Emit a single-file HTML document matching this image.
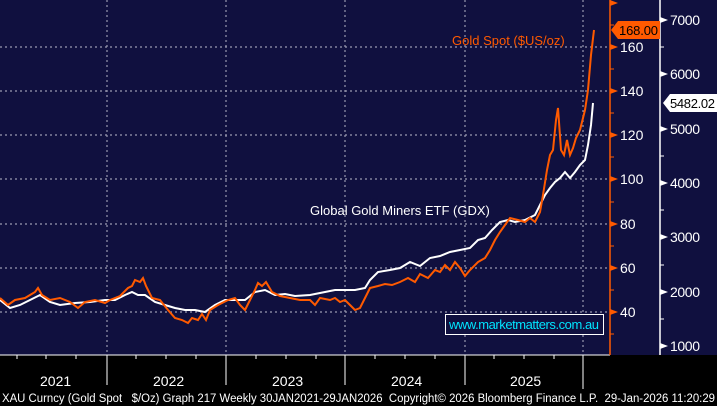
<!DOCTYPE html><html><head><style>body{margin:0;background:#000;}svg{display:block;font-family:"Liberation Sans",sans-serif}</style></head><body>
<svg width="717" height="406" viewBox="0 0 717 406">
<rect x="0" y="0" width="717" height="355" fill="#10103f"/>
<rect x="0" y="355" width="717" height="51" fill="#000"/>
<g stroke="#9a9ab0" stroke-width="1.2" stroke-dasharray="2,3">
<line x1="107" y1="0" x2="107" y2="355"/><line x1="226" y1="0" x2="226" y2="355"/><line x1="345" y1="0" x2="345" y2="355"/><line x1="465" y1="0" x2="465" y2="355"/><line x1="583" y1="0" x2="583" y2="355"/>
<line x1="0" y1="47" x2="610" y2="47"/><line x1="0" y1="91" x2="610" y2="91"/><line x1="0" y1="135" x2="610" y2="135"/><line x1="0" y1="179" x2="610" y2="179"/><line x1="0" y1="224" x2="610" y2="224"/><line x1="0" y1="268" x2="610" y2="268"/><line x1="0" y1="312" x2="610" y2="312"/>
</g>
<line x1="0" y1="355" x2="610" y2="355" stroke="#fff" stroke-width="1"/>
<g stroke="#fff" stroke-width="1"><line x1="107" y1="355" x2="107" y2="385"/><line x1="226" y1="355" x2="226" y2="385"/><line x1="345" y1="355" x2="345" y2="385"/><line x1="465" y1="355" x2="465" y2="385"/><line x1="583" y1="355" x2="583" y2="389"/>
<line x1="17" y1="355" x2="17" y2="359"/><line x1="46" y1="355" x2="46" y2="359"/><line x1="76" y1="355" x2="76" y2="359"/><line x1="136" y1="355" x2="136" y2="359"/><line x1="166" y1="355" x2="166" y2="359"/><line x1="196" y1="355" x2="196" y2="359"/><line x1="256" y1="355" x2="256" y2="359"/><line x1="286" y1="355" x2="286" y2="359"/><line x1="316" y1="355" x2="316" y2="359"/><line x1="375" y1="355" x2="375" y2="359"/><line x1="405" y1="355" x2="405" y2="359"/><line x1="435" y1="355" x2="435" y2="359"/><line x1="494" y1="355" x2="494" y2="359"/><line x1="524" y1="355" x2="524" y2="359"/><line x1="554" y1="355" x2="554" y2="359"/></g>
<line x1="610" y1="0" x2="610" y2="355" stroke="#ff5a00" stroke-width="1.5"/>
<g fill="#ff5a00"><polygon points="610,44 618,47 610,50"/><polygon points="610,88 618,91 610,94"/><polygon points="610,132 618,135 610,138"/><polygon points="610,176 618,179 610,182"/><polygon points="610,221 618,224 610,227"/><polygon points="610,265 618,268 610,271"/><polygon points="610,309 618,312 610,315"/><polygon points="610,0 618,3 610,6"/></g>
<g stroke="#ff5a00"><line x1="610" y1="25" x2="614" y2="25"/><line x1="610" y1="69" x2="614" y2="69"/><line x1="610" y1="113" x2="614" y2="113"/><line x1="610" y1="157" x2="614" y2="157"/><line x1="610" y1="202" x2="614" y2="202"/><line x1="610" y1="246" x2="614" y2="246"/><line x1="610" y1="290" x2="614" y2="290"/><line x1="610" y1="334" x2="614" y2="334"/></g>
<g fill="#fff" font-size="14"><text x="620" y="52">160</text><text x="620" y="96">140</text><text x="620" y="140">120</text><text x="620" y="184">100</text><text x="620" y="229">80</text><text x="620" y="273">60</text><text x="620" y="317">40</text></g>
<line x1="660" y1="0" x2="660" y2="355" stroke="#fff" stroke-width="1.5"/>
<g fill="#fff"><polygon points="660,17 668,20 660,23"/><polygon points="660,71 668,74 660,77"/><polygon points="660,126 668,129 660,132"/><polygon points="660,180 668,183 660,186"/><polygon points="660,234 668,237 660,240"/><polygon points="660,289 668,292 660,295"/><polygon points="660,343 668,346 660,349"/></g>
<g stroke="#fff"><line x1="660" y1="47" x2="664" y2="47"/><line x1="660" y1="156" x2="664" y2="156"/><line x1="660" y1="210" x2="664" y2="210"/><line x1="660" y1="265" x2="664" y2="265"/><line x1="660" y1="319" x2="664" y2="319"/></g>
<g fill="#fff" font-size="14"><text x="670" y="25" textLength="30">7000</text><text x="670" y="79" textLength="30">6000</text><text x="670" y="134" textLength="30">5000</text><text x="670" y="188" textLength="30">4000</text><text x="670" y="242" textLength="30">3000</text><text x="670" y="297" textLength="30">2000</text><text x="670" y="351" textLength="30">1000</text></g>
<polyline fill="none" stroke="#fff" stroke-width="2" points="0,300 10,308 20,305 30,300 40,295 50,302 60,305 75,303 90,302 105,300 115,300 125,295 132,292 138,295 145,295 155,302 165,305 175,308 185,310 195,310 205,312 215,305 225,300 235,300 245,300 255,292 265,290 275,295 285,294 295,296 310,295 320,293 335,290 345,290 355,290 365,288 370,280 378,272 390,270 400,268 410,262 420,266 430,258 440,256 450,252 460,250 470,248 478,240 485,238 492,230 500,222 508,220 515,222 525,220 535,215 540,205 545,195 550,188 555,182 560,178 565,172 570,178 575,172 580,165 585,160 588,145 591,125 593,103"/>
<polyline fill="none" stroke="#ff5a00" stroke-width="2" points="0,298 8,305 15,300 25,298 35,292 38,288 42,295 50,300 60,298 70,302 78,308 85,302 95,300 105,303 110,300 120,296 128,288 132,286 135,280 140,282 143,278 146,286 152,298 160,300 168,310 175,318 182,320 188,323 192,318 198,320 202,314 206,320 210,310 218,305 228,300 235,298 240,305 245,310 250,300 255,290 258,283 262,286 266,282 272,292 280,296 290,298 300,300 310,300 315,305 320,298 330,300 335,298 340,302 345,300 350,305 355,310 360,308 365,298 370,288 378,286 385,284 392,285 400,282 408,278 415,282 420,274 428,278 435,270 440,272 445,265 450,270 455,262 460,268 465,276 470,270 478,262 485,258 490,250 495,240 500,232 505,225 510,218 518,220 525,222 530,218 535,222 540,212 543,195 547,170 550,155 553,150 556,120 558,108 561,150 564,155 567,140 570,155 573,148 576,138 580,130 585,110 588,90 591,55 594,30"/>
<text x="452" y="45" fill="#ff5a00" font-size="13">Gold Spot ($US/oz)</text>
<text x="310" y="215" fill="#fff" font-size="13">Global Gold Miners ETF (GDX)</text>
<rect x="445.5" y="314.5" width="158" height="20" fill="#10103f" stroke="#fff"/>
<text x="449" y="329" fill="#00e5ff" font-size="13" textLength="150">www.marketmatters.com.au</text>
<polygon points="611,30 618,21 660,21 660,39 618,39" fill="#ff5a00"/>
<text x="619" y="35" fill="#000" font-size="13" textLength="39">168.00</text>
<polygon points="663,103 670,94 717,94 717,112 670,112" fill="#fff"/>
<text x="670" y="108" fill="#000" font-size="13" textLength="45">5482.02</text>
<g fill="#fff" font-size="14"><text x="40" y="386">2021</text><text x="153" y="386">2022</text><text x="272" y="386">2023</text><text x="391" y="386">2024</text><text x="510" y="386">2025</text></g>
<text x="2" y="402" fill="#fff" font-size="11.5" textLength="713" lengthAdjust="spacingAndGlyphs" xml:space="preserve">XAU Curncy (Gold Spot   $/Oz) Graph 217 Weekly 30JAN2021-29JAN2026  Copyright© 2026 Bloomberg Finance L.P.  29-Jan-2026 11:20:29</text>
</svg>
</body></html>
